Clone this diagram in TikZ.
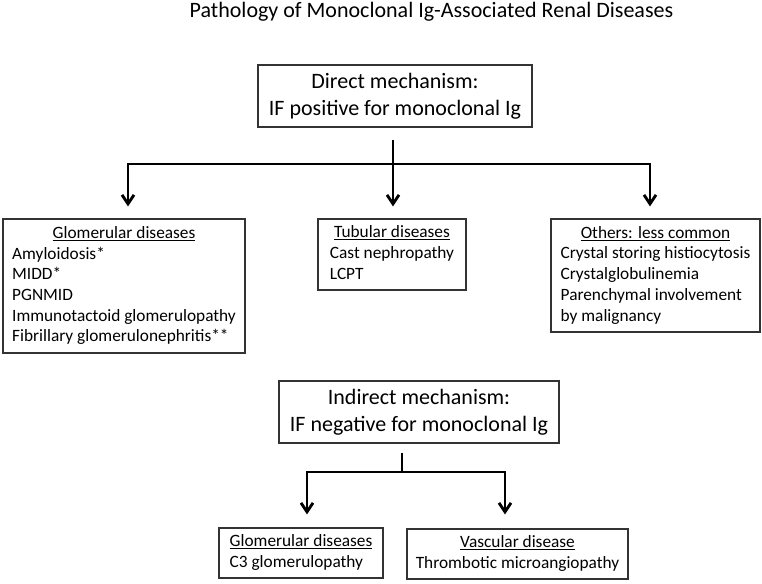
\documentclass[tikz,border=0pt]{standalone}
\usepackage{fontspec}
\setmainfont{Carlito}
\usetikzlibrary{arrows.meta}
\begin{document}
\begin{tikzpicture}[x=1pt,y=-1pt,
  mech/.style={draw=black!80, line width=1.2pt, inner sep=0pt, align=center,
    font=\fontsize{22}{27}\selectfont},
  listbox/.style={draw=black!80, line width=1.2pt, inner sep=0pt,
    font=\fontsize{17.3}{20.7}\selectfont},
  conn/.style={line width=2.8pt},
  arr/.style={conn, -{Straight Barb[length=9pt,width=12pt]}}]
\useasboundingbox (0,0) rectangle (762,583);
\node[anchor=base, font=\fontsize{22}{26}\selectfont] (title) at (431.5,18)
  {Pathology of Monoclonal Ig-Associated Renal Diseases};
\node[mech, minimum width=274pt, minimum height=62pt] (direct) at (395,96)
  {Direct mechanism:\\IF positive for monoclonal Ig};
\node[listbox, minimum width=242pt, minimum height=134pt] (glom) at (124,286)
  {\begin{tabular}{@{}l@{}}\multicolumn{1}{@{}c@{}}{\underline{Glomerular diseases}}\\
   Amyloidosis*\\MIDD*\\PGNMID\\Immunotactoid glomerulopathy\\Fibrillary glomerulonephritis**\end{tabular}};
\node[listbox, minimum width=148pt, minimum height=71pt] (tub) at (392,254.5)
  {\begin{tabular}{@{}l@{}}\multicolumn{1}{@{}c@{}}{\underline{Tubular diseases}}\\
   Cast nephropathy\\LCPT\end{tabular}};
\node[listbox, minimum width=209pt, minimum height=113pt] (oth) at (655.5,275.5)
  {\begin{tabular}{@{}l@{}}\multicolumn{1}{@{}c@{}}{\underline{Others: less common}}\\
   Crystal storing histiocytosis\\Crystalglobulinemia\\Parenchymal involvement\\by malignancy\end{tabular}};
\node[mech, minimum width=280pt, minimum height=62pt] (indirect) at (419,412)
  {Indirect mechanism:\\IF negative for monoclonal Ig};
\node[listbox, minimum width=164pt, minimum height=50pt] (glomb) at (301,553)
  {\begin{tabular}{@{}l@{}}\multicolumn{1}{@{}c@{}}{\underline{Glomerular diseases}}\\
   C3 glomerulopathy\end{tabular}};
\node[listbox, minimum width=221pt, minimum height=50pt] (vasc) at (517.5,554)
  {\begin{tabular}{@{}l@{}}\multicolumn{1}{@{}c@{}}{\underline{Vascular disease}}\\
   Thrombotic microangiopathy\end{tabular}};
% direct connectors
\coordinate (dj) at (393,164);
\coordinate (dl) at (128,164);
\coordinate (dr) at (650,164);
\draw[conn, shorten <=12pt] (direct.south -| dj) -- (dj);
\draw[arr, shorten >=12pt] (dj) -- (dl) -- (glom.north -| dl);
\draw[arr, shorten >=12pt] (dj) -- (dr) -- (oth.north -| dr);
\draw[arr, shorten >=12pt] (dj) -- (tub.north -| dj);
% indirect connectors
\coordinate (ij) at (402,472);
\coordinate (il) at (307,472);
\coordinate (ir) at (505,472);
\draw[conn, shorten <=9pt] (indirect.south -| ij) -- (ij);
\draw[arr, shorten >=13pt] (ij) -- (il) -- (glomb.north -| il);
\draw[arr, shorten >=14pt] (ij) -- (ir) -- (vasc.north -| ir);
\end{tikzpicture}
\end{document}
